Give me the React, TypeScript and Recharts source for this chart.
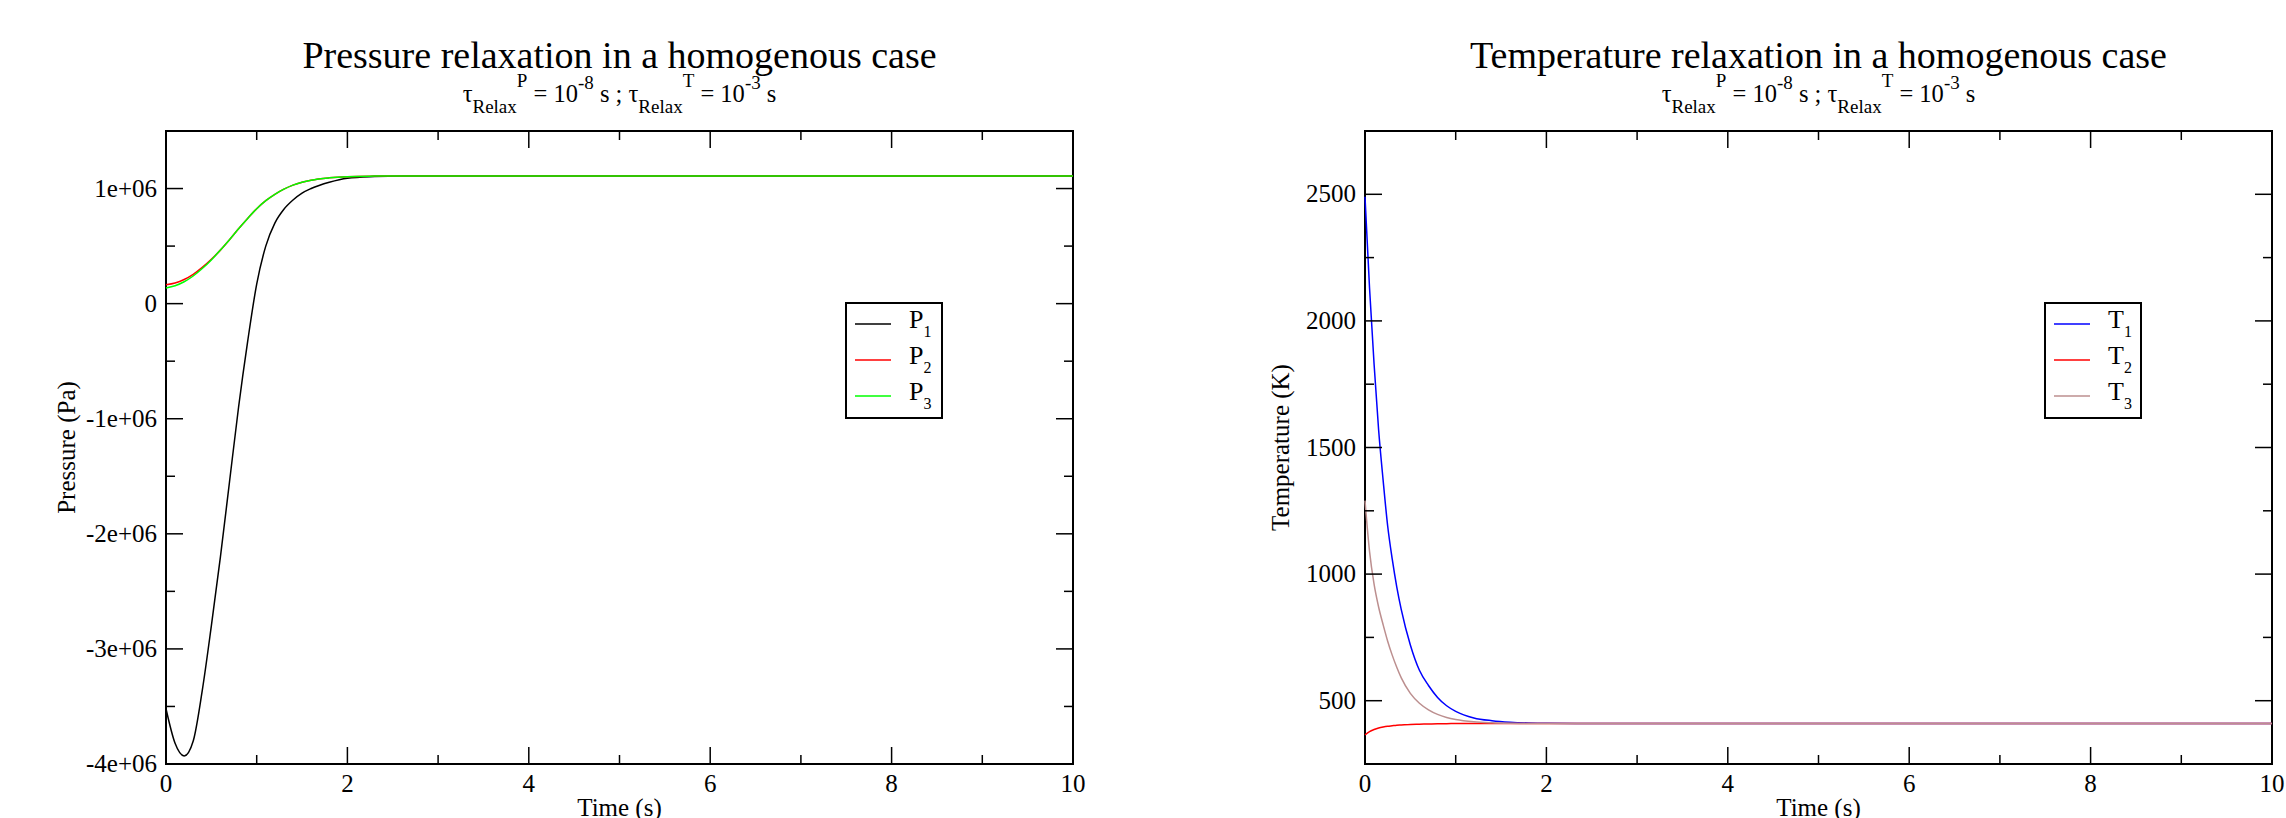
import React from 'react';
import { LineChart, Line, XAxis, YAxis, ReferenceArea, Legend } from 'recharts';

const FONT = '"Liberation Serif", "Times New Roman", Times, serif';

// Pressure chart: time (s) and pressures (Pa)
const pressureTime = [0, 0.1, 0.2, 0.3, 0.4, 0.5, 0.6, 0.7, 0.8, 0.9, 1.0, 1.1, 1.2, 1.3, 1.4, 1.5, 1.6, 1.8, 2.0, 2.3, 2.6, 3, 4, 5, 6, 7, 8, 9, 10];
const p1 = [
  -3.52e6, -3.82e6, -3.93e6, -3.8e6, -3.36e6, -2.8e6, -2.2e6, -1.55e6, -0.9e6, -0.33e6,
  0.17e6, 0.5e6, 0.7e6, 0.82e6, 0.9e6, 0.96e6, 1.0e6, 1.055e6, 1.09e6, 1.105e6,
  1.11e6, 1.11e6, 1.11e6, 1.11e6, 1.11e6, 1.11e6, 1.11e6, 1.11e6, 1.11e6,
];
const p2 = [
  0.165e6, 0.18e6, 0.21e6, 0.255e6, 0.315e6, 0.385e6, 0.465e6, 0.555e6, 0.65e6, 0.74e6,
  0.825e6, 0.895e6, 0.95e6, 0.995e6, 1.03e6, 1.055e6, 1.073e6, 1.093e6, 1.103e6, 1.108e6,
  1.11e6, 1.11e6, 1.11e6, 1.11e6, 1.11e6, 1.11e6, 1.11e6, 1.11e6, 1.11e6,
];
const p3 = [
  0.135e6, 0.155e6, 0.19e6, 0.24e6, 0.305e6, 0.38e6, 0.465e6, 0.555e6, 0.65e6, 0.74e6,
  0.825e6, 0.895e6, 0.95e6, 0.995e6, 1.03e6, 1.055e6, 1.073e6, 1.093e6, 1.103e6, 1.108e6,
  1.11e6, 1.11e6, 1.11e6, 1.11e6, 1.11e6, 1.11e6, 1.11e6, 1.11e6, 1.11e6,
];

// Temperature chart: time (s) and temperatures (K)
const temperatureTime = [0, 0.05, 0.1, 0.15, 0.2, 0.25, 0.3, 0.35, 0.4, 0.5, 0.6, 0.7, 0.8, 0.9, 1.0, 1.2, 1.4, 1.6, 1.8, 2.0, 2.5, 3, 4, 5, 6, 7, 8, 9, 10];
const t1 = [2490, 2130, 1830, 1570, 1370, 1190, 1060, 950, 860, 720, 620, 560, 513, 480, 458, 432, 421, 415, 412, 411, 410, 410, 410, 410, 410, 410, 410, 410, 410];
const t2 = [365, 378, 386, 392, 396, 399, 401, 403, 404, 406, 407, 408, 409, 409, 410, 410, 410, 410, 410, 410, 410, 410, 410, 410, 410, 410, 410, 410, 410];
const t3 = [1290, 1090, 960, 870, 800, 735, 680, 632, 590, 529, 490, 464, 446, 434, 426, 417, 413, 411, 410, 410, 410, 410, 410, 410, 410, 410, 410, 410, 410];

// ticks (minor ones carry no label)
const timeTicks = [0, 1, 2, 3, 4, 5, 6, 7, 8, 9, 10];
const pressureTicks = [-4e6, -3.5e6, -3e6, -2.5e6, -2e6, -1.5e6, -1e6, -0.5e6, 0, 0.5e6, 1e6];
const temperatureTicks = [500, 750, 1000, 1250, 1500, 1750, 2000, 2250, 2500];

const pressureData = pressureTime.map((t, i) => ({ t, P1: p1[i], P2: p2[i], P3: p3[i] }));
const temperatureData = temperatureTime.map((t, i) => ({ t, T1: t1[i], T2: t2[i], T3: t3[i] }));

const CHART_W = 1143;
const CHART_H = 818;
const PLOT_TOP = 131;
const PLOT_W = 907;
const PLOT_H = 633;
const MAJOR = 17;
const MINOR = 9;

const XTick = (props: any) => {
  const { x, y, payload } = props;
  const v = payload.value;
  const major = v % 2 === 0;
  const len = major ? MAJOR : MINOR;
  return (
    <g>
      <line x1={x} y1={y} x2={x} y2={y - len} stroke="#000" strokeWidth={1.5} />
      <line x1={x} y1={y - PLOT_H} x2={x} y2={y - PLOT_H + len} stroke="#000" strokeWidth={1.5} />
      {major && (
        <text x={x} y={y + 28} textAnchor="middle" fontFamily={FONT} fontSize={25} fill="#000">
          {v}
        </text>
      )}
    </g>
  );
};

const makeYTick = (isMajor: (v: number) => boolean, fmt: (v: number) => string) => (props: any) => {
  const { x, y, payload } = props;
  const v = payload.value;
  const major = isMajor(v);
  const len = major ? MAJOR : MINOR;
  return (
    <g>
      <line x1={x} y1={y} x2={x + len} y2={y} stroke="#000" strokeWidth={1.5} />
      <line x1={x + PLOT_W} y1={y} x2={x + PLOT_W - len} y2={y} stroke="#000" strokeWidth={1.5} />
      {major && (
        <text x={x - 9} y={y + 8} textAnchor="end" fontFamily={FONT} fontSize={25} fill="#000">
          {fmt(v)}
        </text>
      )}
    </g>
  );
};

const PressureTick = makeYTick(
  (v) => v % 1e6 === 0,
  (v) => (v === 0 ? '0' : `${v / 1e6}e+06`)
);
const TemperatureTick = makeYTick((v) => v % 500 === 0, (v) => String(v));

// legend box: symbol letter with a subscript index
const LegendBox = (props: any) => {
  const items = props.payload || [];
  return (
    <svg width={98} height={117} style={{ display: 'block' }}>
      <rect x={1} y={1} width={96} height={115} fill="#fff" stroke="#000" strokeWidth={2} />
      {items.map((it: any, i: number) => {
        const cy = 22 + i * 36;
        const name = String(it.value);
        return (
          <g key={name}>
            <line x1={10} x2={46} y1={cy} y2={cy} stroke={it.color} strokeWidth={1.5} />
            <text x={64} y={cy + 4} fontFamily={FONT} fontSize={26} fill="#000">
              {name.slice(0, 1)}
              <tspan fontSize={16} dy={9}>{name.slice(1)}</tspan>
            </text>
          </g>
        );
      })}
    </svg>
  );
};

const Subtitle = ({ cx }: { cx: number }) => (
  <text x={cx} y={102} textAnchor="middle" fontFamily={FONT} fontSize={24.5} fill="#000">
    τ
    <tspan fontSize={19} dy={11}>Relax</tspan>
    <tspan fontSize={19} dy={-26}>P</tspan>
    <tspan fontSize={24.5} dy={15}> = 10</tspan>
    <tspan fontSize={19} dy={-13}>-8</tspan>
    <tspan fontSize={24.5} dy={13}> s ; τ</tspan>
    <tspan fontSize={19} dy={11}>Relax</tspan>
    <tspan fontSize={19} dy={-26}>T</tspan>
    <tspan fontSize={24.5} dy={15}> = 10</tspan>
    <tspan fontSize={19} dy={-13}>-3</tspan>
    <tspan fontSize={24.5} dy={13}> s</tspan>
  </text>
);

const labelStyle = { textAnchor: 'middle' as const, fontFamily: FONT, fontSize: 25, fill: '#000' };

const App: React.FC = () => {
  return (
    <div style={{ position: 'absolute', left: 0, top: 0, width: 2286, height: 818, background: '#fff', fontFamily: FONT }}>
      <svg width={2286} height={140} style={{ position: 'absolute', left: 0, top: 0, pointerEvents: 'none' }}>
        <text x={619.5} y={68} textAnchor="middle" fontFamily={FONT} fontSize={38} fill="#000">
          Pressure relaxation in a homogenous case
        </text>
        <Subtitle cx={619.5} />
        <text x={1818.5} y={68} textAnchor="middle" fontFamily={FONT} fontSize={38} fill="#000">
          Temperature relaxation in a homogenous case
        </text>
        <Subtitle cx={1818.5} />
      </svg>

      <div style={{ position: 'absolute', left: 0, top: 0 }}>
        <LineChart width={CHART_W} height={CHART_H} data={pressureData} margin={{ top: PLOT_TOP, right: 70, bottom: 0, left: 0 }}>
          <XAxis
            dataKey="t"
            type="number"
            domain={[0, 10]}
            ticks={timeTicks}
            interval={0}
            height={54}
            tickSize={0}
            tickMargin={0}
            tickLine={false}
            axisLine={false}
            tick={XTick}
            label={{ value: 'Time (s)', position: 'insideBottom', offset: 2, style: labelStyle }}
          />
          <YAxis
            type="number"
            domain={[-4e6, 1.5e6]}
            ticks={pressureTicks}
            interval={0}
            width={166}
            tickSize={0}
            tickMargin={0}
            tickLine={false}
            axisLine={false}
            tick={PressureTick}
            label={{ value: 'Pressure (Pa)', angle: -90, position: 'insideLeft', offset: 66, style: labelStyle }}
          />
          <ReferenceArea x1={0} x2={10} y1={-4e6} y2={1.5e6} fill="none" stroke="#000" strokeWidth={2} />
          <Line type="monotone" dataKey="P1" name="P1" stroke="#000000" strokeWidth={1.5} dot={false} isAnimationActive={false} />
          <Line type="monotone" dataKey="P2" name="P2" stroke="#ff0000" strokeWidth={1.5} dot={false} isAnimationActive={false} />
          <Line type="monotone" dataKey="P3" name="P3" stroke="#00ff00" strokeWidth={1.5} dot={false} isAnimationActive={false} />
          <Legend
            layout="vertical"
            align="center"
            verticalAlign="middle"
            content={LegendBox}
            wrapperStyle={{ position: 'absolute', left: 845, top: 302, width: 98, height: 117 }}
          />
        </LineChart>
      </div>

      <div style={{ position: 'absolute', left: CHART_W, top: 0 }}>
        <LineChart width={CHART_W} height={CHART_H} data={temperatureData} margin={{ top: PLOT_TOP, right: 14, bottom: 0, left: 0 }}>
          <XAxis
            dataKey="t"
            type="number"
            domain={[0, 10]}
            ticks={timeTicks}
            interval={0}
            height={54}
            tickSize={0}
            tickMargin={0}
            tickLine={false}
            axisLine={false}
            tick={XTick}
            label={{ value: 'Time (s)', position: 'insideBottom', offset: 2, style: labelStyle }}
          />
          <YAxis
            type="number"
            domain={[250, 2750]}
            ticks={temperatureTicks}
            interval={0}
            width={222}
            tickSize={0}
            tickMargin={0}
            tickLine={false}
            axisLine={false}
            tick={TemperatureTick}
            label={{ value: 'Temperature (K)', angle: -90, position: 'insideLeft', offset: 137, style: labelStyle }}
          />
          <ReferenceArea x1={0} x2={10} y1={250} y2={2750} fill="none" stroke="#000" strokeWidth={2} />
          <Line type="monotone" dataKey="T1" name="T1" stroke="#0000ff" strokeWidth={1.5} dot={false} isAnimationActive={false} />
          <Line type="monotone" dataKey="T2" name="T2" stroke="#ff0000" strokeWidth={1.5} dot={false} isAnimationActive={false} />
          <Line type="monotone" dataKey="T3" name="T3" stroke="#bc8f8f" strokeWidth={1.5} dot={false} isAnimationActive={false} />
          <Legend
            layout="vertical"
            align="center"
            verticalAlign="middle"
            content={LegendBox}
            wrapperStyle={{ position: 'absolute', left: 901, top: 302, width: 98, height: 117 }}
          />
        </LineChart>
      </div>
    </div>
  );
};

export default App;
